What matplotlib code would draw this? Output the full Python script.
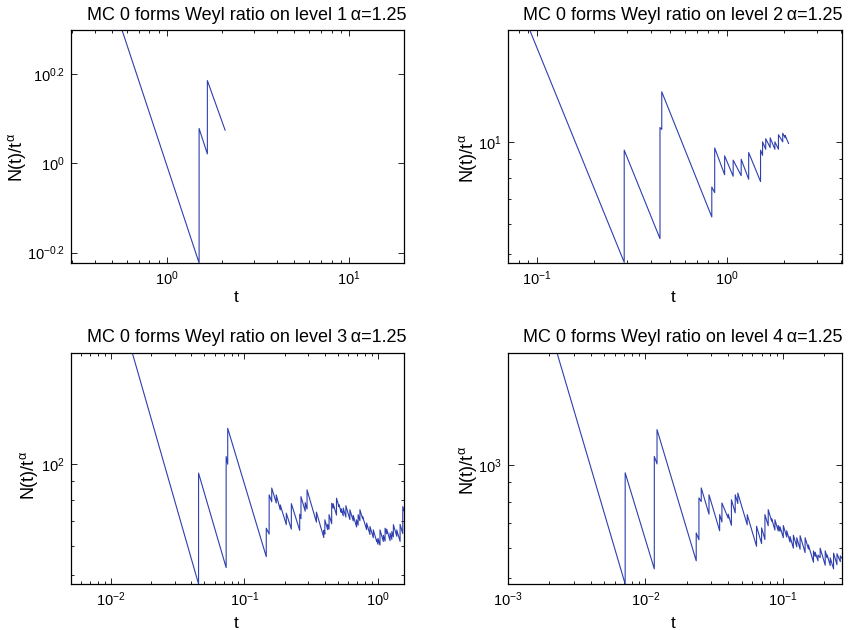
import matplotlib
matplotlib.use('Agg')
import matplotlib.pyplot as plt
from matplotlib.ticker import LogLocator, NullFormatter, NullLocator, FixedLocator, FixedFormatter

plt.rcParams['font.family'] = ['Liberation Sans', 'DejaVu Sans']
plt.rcParams['mathtext.fontset'] = 'custom'
plt.rcParams['mathtext.rm'] = 'Liberation Sans'
plt.rcParams['mathtext.it'] = 'Liberation Sans:italic'
plt.rcParams['mathtext.default'] = 'regular'

# level 1: (t, N(t)/t^alpha) vertices
t1 = [0.566, 1.5, 1.5, 1.665, 1.665, 2.084]
r1 = [1.99, 0.598, 1.197, 1.05, 1.533, 1.187]

# level 2
t2 = [0.0914, 0.2883, 0.2883, 0.4454, 0.4454, 0.455, 0.455, 0.836, 0.836, 0.866, 0.866,
      0.977, 0.977, 1.084, 1.084, 1.195, 1.195, 1.309, 1.309, 1.512, 1.512, 1.55, 1.55,
      1.61, 1.61, 1.70, 1.70, 1.80, 1.80, 1.88, 1.88, 1.98, 1.98, 2.04, 2.04, 2.126]
r2 = [20.0, 4.74, 9.50, 5.49, 10.93, 10.8, 13.64, 6.28, 7.56, 7.30, 9.63,
      8.16, 9.17, 8.08, 8.93, 8.11, 8.98, 7.93, 9.36, 7.82, 9.50, 9.20, 10.0,
      9.55, 10.2, 9.65, 10.25, 9.55, 10.0, 9.55, 10.45, 10.0, 10.55, 10.25, 10.4, 9.9]

# level 3
t3 = [0.01446, 0.0453, 0.0453, 0.0729, 0.0729, 0.0749, 0.0749, 0.1456, 0.1456, 0.1530,
      0.1530, 0.1600, 0.1600, 0.1730, 0.1730, 0.1854, 0.1854, 0.2057, 0.2057, 0.2244,
      0.2244, 0.2592, 0.2592, 0.2650, 0.2650, 0.2850, 0.2850, 0.2942, 0.2942, 0.3457,
      0.3457, 0.3927, 0.3927, 0.4000, 0.4000, 0.4200, 0.4200, 0.4300, 0.4300, 0.4500,
      0.4500, 0.4614, 0.4614, 0.4888, 0.4888, 0.5100, 0.5100, 0.5300, 0.5300, 0.5490,
      0.5490, 0.5746, 0.5746, 0.6160, 0.6160, 0.6525, 0.6525, 0.6912, 0.6912, 0.7100,
      0.7100, 0.7322, 0.7322, 0.7668, 0.7668, 0.8219, 0.8219, 0.8707, 0.8707, 0.9224,
      0.9224, 0.9772, 0.9772, 1.0000, 1.0000, 1.0350, 1.0350, 1.0970, 1.0970, 1.1300,
      1.1300, 1.1620, 1.1620, 1.2310, 1.2310, 1.2700, 1.2700, 1.3040, 1.3040, 1.3820,
      1.3820, 1.4640, 1.4640, 1.5330, 1.5330, 1.5660]
r3 = [200.0, 47.2, 94.4, 52.3, 104.7, 99.8, 124.9, 56.0, 66.9, 64.5,
      82.4, 78.9, 86.0, 78.3, 82.4, 75.0, 77.4, 68.4, 73.5, 66.5,
      78.0, 66.0, 73.0, 71.0, 81.5, 74.4, 78.5, 75.4, 85.0, 69.5,
      74.0, 63.1, 66.0, 64.5, 70.5, 66.3, 68.5, 66.5, 72.8, 68.8,
      78.2, 75.8, 78.0, 72.6, 80.7, 76.6, 77.5, 73.9, 75.5, 72.3,
      75.9, 71.7, 77.0, 70.6, 75.1, 70.0, 72.5, 67.4, 70.5, 68.2,
      72.8, 70.1, 75.1, 71.0, 72.0, 66.3, 69.1, 64.3, 67.6, 63.0,
      66.2, 61.6, 62.3, 60.5, 62.8, 60.2, 66.2, 61.6, 64.0, 61.7,
      66.9, 64.6, 66.5, 61.9, 64.9, 62.4, 65.5, 63.4, 68.4, 63.6,
      66.2, 61.6, 68.5, 64.7, 76.6, 74.6]

# level 4
t4 = [0.002275, 0.00712, 0.00712, 0.0116, 0.0116, 0.01214, 0.01214, 0.02341, 0.02341, 0.0245,
      0.0245, 0.02547, 0.02547, 0.0290, 0.0290, 0.03466, 0.03466, 0.0360, 0.0360, 0.0400,
      0.0400, 0.04222, 0.04222, 0.0450, 0.0450, 0.0470, 0.0470, 0.0550, 0.0550, 0.0643,
      0.0643, 0.0700, 0.0700, 0.0740, 0.0740, 0.0782, 0.0782, 0.0828, 0.0828, 0.0875,
      0.0875, 0.0925, 0.0925, 0.0952, 0.0952, 0.1007, 0.1007, 0.1066, 0.1066, 0.1127,
      0.1127, 0.1192, 0.1192, 0.1262, 0.1262, 0.1334, 0.1334, 0.1451, 0.1451, 0.1534,
      0.1534, 0.1669, 0.1669, 0.1717, 0.1717, 0.1800, 0.1800, 0.1867, 0.1867, 0.2032,
      0.2032, 0.2100, 0.2100, 0.2211, 0.2211, 0.2337, 0.2337, 0.2474, 0.2474, 0.2617,
      0.2617, 0.2692]
r4 = [2000.0, 481.0, 955.0, 528.0, 1057.0, 1009.0, 1247.0, 555.0, 659.0, 632.0,
      818.0, 800.0, 870.0, 740.0, 834.0, 668.0, 738.0, 705.0, 793.0, 722.0,
      740.0, 691.0, 809.0, 746.0, 834.0, 790.0, 843.0, 693.0, 738.0, 607.0,
      687.0, 617.0, 680.0, 633.0, 738.0, 689.0, 761.0, 709.0, 720.0, 671.0,
      715.0, 667.0, 690.0, 666.0, 685.0, 640.0, 690.0, 643.0, 668.0, 623.0,
      645.0, 600.0, 650.0, 605.0, 640.0, 596.0, 648.0, 584.0, 640.0, 597.0,
      612.0, 550.0, 590.0, 570.0, 585.0, 555.0, 575.0, 566.0, 600.0, 540.0,
      590.0, 566.0, 575.0, 539.0, 565.0, 528.0, 582.0, 542.0, 580.0, 552.0,
      572.0, 564.0]

levels = [1, 2, 3, 4]
xlims = [(0.297, 20.0), (0.0702, 4.07), (0.00502, 1.566), (0.001, 0.2692)]
ylims = [(0.598, 1.99), (4.72, 20.0), (47.2, 200.0), (481.0, 2000.0)]

W, H = 850, 630
fig = plt.figure(figsize=(8.5, 6.3), dpi=100)

# axes boxes in pixels: left, top, right, bottom
boxes = [(71, 30, 404, 263), (508, 30, 842, 263), (71, 353, 404, 584), (508, 353, 842, 584)]
title_pos = [(246.5, 19.5), (682.5, 19.5), (246.5, 342), (682.5, 342)]
ylab_pos = [(17, 157), (468, 158), (29, 475), (468, 470)]
xlab_pos = [(236, 297), (673, 297), (236, 624), (673, 624)]
ts = [t1, t2, t3, t4]
rs = [r1, r2, r3, r4]

for i in range(4):
    l, tp, r, b = boxes[i]
    ax = fig.add_axes([l / W, 1 - b / H, (r - l) / W, (b - tp) / H])
    ax.loglog(ts[i], rs[i], color='#2e3fae', lw=0.8)
    ax.set_xlim(*xlims[i])
    ax.set_ylim(*ylims[i])

    ax.xaxis.set_major_locator(LogLocator(base=10))
    ax.xaxis.set_minor_locator(LogLocator(base=10, subs=range(2, 10)))
    ax.xaxis.set_minor_formatter(NullFormatter())
    if i == 0:
        ax.yaxis.set_major_locator(FixedLocator([10 ** -0.2, 1.0, 10 ** 0.2]))
        ax.yaxis.set_major_formatter(FixedFormatter(['$10^{-0.2}$', '$10^{0}$', '$10^{0.2}$']))
        ax.yaxis.set_minor_locator(NullLocator())
    else:
        ax.yaxis.set_major_locator(LogLocator(base=10))
        ax.yaxis.set_minor_locator(LogLocator(base=10, subs=range(2, 10)))
        ax.yaxis.set_minor_formatter(NullFormatter())

    ax.tick_params(which='both', direction='in', top=True, right=True, labelsize=10.5,
                   width=0.6, colors='black')
    ax.tick_params(which='major', length=4, pad=4.5)
    ax.tick_params(which='minor', length=2.5)
    for s in ax.spines.values():
        s.set_linewidth(0.9)

    tx, ty = title_pos[i]
    fig.text(tx / W, 1 - ty / H, 'MC 0 forms Weyl ratio on level %d\u2009\u03b1=1.25' % levels[i],
             ha='center', va='baseline', fontsize=13)
    yx, yy = ylab_pos[i]
    fig.text(yx / W, 1 - yy / H, r'N(t)/t$^{\alpha}$', rotation=90, ha='center', va='center',
             fontsize=13)
    xx, xy = xlab_pos[i]
    fig.text(xx / W, 1 - xy / H, 't', ha='center', va='center', fontsize=12.5)

fig.savefig('out.png', dpi=100)
